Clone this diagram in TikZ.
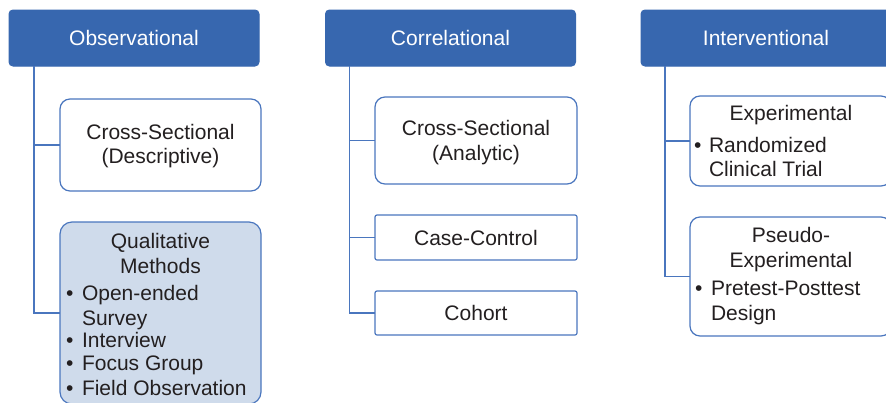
\documentclass[tikz,border=0pt]{standalone}
\usepackage{fontspec}
\setmainfont{Liberation Sans}
\definecolor{headblue}{HTML}{3767AF}
\definecolor{lineblue}{HTML}{4A76BE}
\definecolor{qualfill}{HTML}{CFDBEB}
\definecolor{ink}{HTML}{231F20}
\begin{document}
\begin{tikzpicture}[x=1pt,y=-1pt,
  every node/.style={inner sep=0pt, outer sep=0pt, font=\fontsize{21}{25}\selectfont, text=ink},
  head/.style={fill=headblue, draw=headblue, line width=1pt, rounded corners=4pt,
               text=white, minimum width=250pt, minimum height=56pt},
  roundbox/.style={draw=lineblue, fill=white, line width=1.2pt, rounded corners=10pt},
  flatbox/.style={draw=lineblue, fill=white, line width=1.2pt, rounded corners=2pt},
  shadedbox/.style={draw=lineblue, fill=qualfill, line width=1.2pt, rounded corners=12pt},
  label/.style={anchor=base},
  item/.style={anchor=base west},
  conn/.style={draw=lineblue, line width=1.2pt}
]
\clip (0,0) rectangle (886,402);
\useasboundingbox (0,0) rectangle (886,402);

% ---------- Observational column ----------
\node[head] (obs) at (134,38) {Observational};
\node[roundbox, minimum width=201pt, minimum height=92pt] (csd) at (160.5,145) {};
\node[shadedbox, minimum width=201pt, minimum height=182pt] (qual) at (160.5,313) {};
\coordinate (obstrunk) at ([xshift=25pt]obs.south west);
\draw[conn] (obstrunk) |- (csd.west);
\draw[conn] (obstrunk) |- (qual.west);

\node[label] (csdA) at (160.5,139) {Cross-Sectional};
\node[label] (csdB) at (160.5,163) {(Descriptive)};

\node[label] (qualA) at (160.5,248) {Qualitative};
\node[label] (qualB) at (160.5,273) {Methods};
\node[item] (qb1) at (66,300) {•};
\node[item] (qi1) at (82,300) {Open-ended};
\node[item] (qi1b) at (82,325) {Survey};
\node[item] (qb2) at (66,347) {•};
\node[item] (qi2) at (82,347) {Interview};
\node[item] (qb3) at (66,370) {•};
\node[item] (qi3) at (82,370) {Focus Group};
\node[item] (qb4) at (66,395) {•};
\node[item] (qi4) at (82,395) {Field Observation};

% ---------- Correlational column ----------
\node[head] (corr) at (450.5,38) {Correlational};
\node[roundbox, minimum width=202pt, minimum height=87pt] (csa) at (476,140.5) {};
\node[flatbox, minimum width=202pt, minimum height=45pt] (cc) at (476,237.5) {Case-Control};
\node[flatbox, minimum width=202pt, minimum height=44pt] (coh) at (476,313) {Cohort};
\coordinate (corrtrunk) at ([xshift=24pt]corr.south west);
\draw[conn] (corrtrunk) |- (csa.west);
\draw[conn] (corrtrunk) |- (cc.west);
\draw[conn] (corrtrunk) |- (coh.west);

\node[label] (csaA) at (476,135) {Cross-Sectional};
\node[label] (csaB) at (476,160) {(Analytic)};

% ---------- Interventional column ----------
\node[head] (int) at (766,38) {Interventional};
\node[roundbox, minimum width=201pt, minimum height=90pt] (exp) at (790.5,141) {};
\node[roundbox, minimum width=201pt, minimum height=119pt] (pse) at (790.5,276.5) {};
\coordinate (inttrunk) at ([xshift=24pt]int.south west);
\draw[conn] (inttrunk) |- (exp.west);
\draw[conn] (inttrunk) |- (pse.west);

\node[label] (expA) at (791,120) {Experimental};
\node[item] (eb1) at (694,152) {•};
\node[item] (ei1) at (709,152) {Randomized};
\node[item] (ei1b) at (709,176) {Clinical Trial};

\node[label] (pseA) at (791,242) {Pseudo-};
\node[label] (pseB) at (791,267) {Experimental};
\node[item] (pb1) at (695,295) {•};
\node[item] (pi1) at (711,295) {Pretest-Posttest};
\node[item] (pi1b) at (711,320) {Design};
\end{tikzpicture}
\end{document}
